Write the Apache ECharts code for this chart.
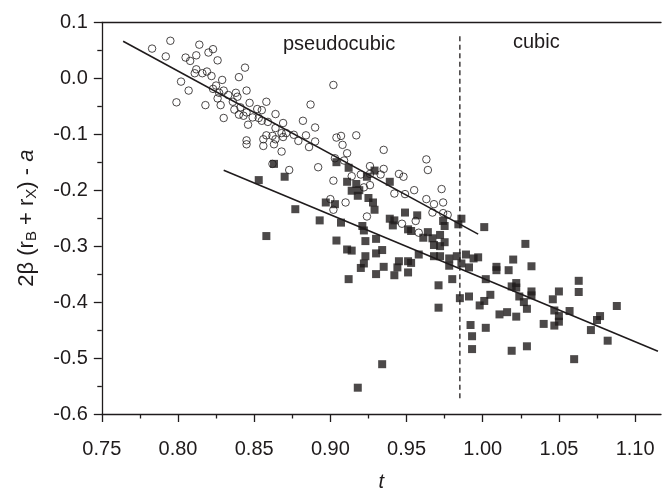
<!DOCTYPE html>
<html><head><meta charset="utf-8">
<script src="https://cdn.jsdelivr.net/npm/echarts@6/dist/echarts.min.js"></script>
<style>html,body{margin:0;padding:0;background:#fff}#c{width:662px;height:497px}</style>
</head><body><div id="c"></div>
<script>
// ---- data ----
const xMajorTicks = [0.75, 0.80, 0.85, 0.90, 0.95, 1.00, 1.05, 1.10];
const xMinorTicks = [0.775, 0.825, 0.875, 0.925, 0.975, 1.025, 1.075];
const regionLabels = ['pseudocubic', 'cubic'];

const circleX = [0.795,0.783,0.792,0.814,0.820,0.823,0.805,0.808,0.812,0.826,0.844,0.812,0.811,0.816,0.819,0.822,0.840,0.829,0.802,0.825,0.823,0.845,0.807,0.830,0.827,0.833,0.838,0.839,0.826,0.799,0.818,0.828,0.836,0.847,0.858,0.841,0.837,0.852,0.855,0.840,0.843,0.845,0.849,0.853,0.830,0.864,0.846,0.855,0.859,0.869,0.864,0.868,0.871,0.876,0.858,0.862,0.856,0.864,0.869,0.845,0.845,0.856,0.863,0.868,0.879,0.862,0.873,
0.902,0.887,0.882,0.890,0.884,0.890,0.886,0.904,0.907,0.917,0.908,0.911,0.935,0.903,0.909,0.892,0.926,0.935,0.920,0.926,0.933,0.945,0.948,0.963,0.964,0.902,0.914,0.955,0.922,0.926,0.942,0.949,0.973,0.900,0.902,0.910,0.963,0.968,0.974,0.967,0.974,0.977,0.924,0.947,0.956,0.958];
const circleY = [0.067,0.053,0.039,0.060,0.046,0.052,0.037,0.031,0.041,0.032,0.019,0.016,0.009,0.009,0.012,0.004,0.002,-0.003,-0.006,-0.013,-0.019,-0.022,-0.022,-0.022,-0.026,-0.030,-0.026,-0.033,-0.036,-0.043,-0.048,-0.048,-0.042,-0.044,-0.042,-0.052,-0.056,-0.055,-0.057,-0.065,-0.067,-0.061,-0.070,-0.071,-0.071,-0.064,-0.083,-0.076,-0.078,-0.080,-0.089,-0.098,-0.098,-0.101,-0.102,-0.103,-0.109,-0.109,-0.105,-0.111,-0.118,-0.121,-0.118,-0.131,-0.112,-0.153,-0.164,
-0.012,-0.047,-0.076,-0.088,-0.102,-0.113,-0.123,-0.106,-0.103,-0.102,-0.119,-0.134,-0.128,-0.143,-0.147,-0.159,-0.157,-0.162,-0.172,-0.171,-0.172,-0.171,-0.176,-0.145,-0.164,-0.183,-0.175,-0.200,-0.195,-0.191,-0.206,-0.207,-0.198,-0.216,-0.235,-0.222,-0.216,-0.225,-0.222,-0.240,-0.241,-0.244,-0.247,-0.260,-0.255,-0.276];

const squareX = [0.863,0.853,0.858,
0.904,0.912,0.870,0.929,0.924,0.911,0.917,0.919,0.914,0.918,0.939,0.925,0.928,0.929,0.897,0.903,0.877,0.893,0.907,0.921,0.922,0.939,0.942,0.941,0.949,0.957,0.904,0.923,0.930,0.911,0.914,0.934,0.930,0.923,0.922,0.920,0.935,0.945,0.944,0.942,0.912,0.930,
0.934,0.918,
0.974,0.975,0.986,0.984,1.001,0.951,0.953,0.964,0.961,0.967,0.972,0.968,0.972,0.975,1.028,0.958,0.968,0.972,0.978,0.983,0.989,0.997,0.994,0.951,0.953,0.978,0.986,0.991,0.951,1.009,1.009,1.017,1.020,1.032,0.971,0.980,1.002,1.019,1.022,1.022,1.032,1.032,1.050,1.063,1.063,0.985,0.991,1.005,1.001,0.998,1.024,1.027,1.029,1.046,1.047,1.057,1.050,1.050,1.047,0.971,1.011,1.016,1.022,1.040,1.077,1.075,1.088,0.992,1.002,1.071,0.993,1.082,0.993,1.019,1.029,1.060];
const squareY = [-0.153,-0.182,-0.282,
-0.150,-0.160,-0.176,-0.165,-0.176,-0.185,-0.189,-0.200,-0.201,-0.210,-0.185,-0.214,-0.222,-0.235,-0.222,-0.225,-0.234,-0.254,-0.258,-0.264,-0.272,-0.251,-0.254,-0.263,-0.240,-0.245,-0.290,-0.291,-0.287,-0.306,-0.308,-0.307,-0.313,-0.318,-0.331,-0.339,-0.337,-0.327,-0.338,-0.352,-0.359,-0.350,
-0.511,-0.553,
-0.255,-0.264,-0.251,-0.261,-0.266,-0.270,-0.273,-0.275,-0.285,-0.286,-0.280,-0.298,-0.300,-0.293,-0.296,-0.315,-0.318,-0.318,-0.322,-0.318,-0.315,-0.320,-0.322,-0.327,-0.330,-0.335,-0.331,-0.338,-0.347,-0.337,-0.343,-0.343,-0.324,-0.336,-0.370,-0.359,-0.359,-0.372,-0.366,-0.374,-0.381,-0.388,-0.381,-0.362,-0.382,-0.393,-0.390,-0.387,-0.398,-0.406,-0.390,-0.400,-0.412,-0.395,-0.415,-0.416,-0.425,-0.435,-0.442,-0.410,-0.422,-0.418,-0.426,-0.439,-0.425,-0.432,-0.407,-0.441,-0.446,-0.450,-0.461,-0.469,-0.484,-0.487,-0.479,-0.502];

const upperFitX = [0.764, 0.997];
const upperFitY = [0.066, -0.2785];
const lowerFitX = [0.830, 1.115];
const lowerFitY = [-0.1646, -0.488];
const boundaryX = [0.985, 0.985];
const boundaryY = [0.075, -0.578];

// ---- chart ----
const FONT = '"Liberation Sans", Arial, Helvetica, sans-serif';
const INK = '#1f1b1c';
const pairs = (xs, ys) => xs.map((x, i) => [x, ys[i]]);

const chart = echarts.init(document.getElementById('c'), null, {renderer: 'canvas'});
const xBase = {type: 'value', min: 0.75, max: 1.117, gridIndex: 0, splitLine: {show: false}};
chart.setOption({
  animation: false,
  backgroundColor: '#fff',
  grid: {left: 101.8, right: 1, top: 22.3, bottom: 75.3, containLabel: false},
  xAxis: [
    Object.assign({}, xBase, {
      position: 'bottom',
      interval: 0.05,
      axisLine: {show: true, onZero: false, lineStyle: {color: INK, width: 1.3}},
      axisTick: {show: true, inside: false, length: 8, customValues: xMajorTicks, lineStyle: {color: INK, width: 1.3}},
      axisLabel: {show: true, customValues: xMajorTicks, margin: 25, fontSize: 20, fontFamily: FONT, color: INK,
        formatter: v => v.toFixed(2)},
      name: 't', nameLocation: 'middle', nameGap: 58,
      nameTextStyle: {fontSize: 20, fontStyle: 'italic', fontFamily: FONT, color: INK}
    }),
    Object.assign({}, xBase, {
      position: 'bottom',
      axisLine: {show: false, onZero: false},
      axisTick: {show: true, inside: false, length: 4.5, customValues: xMinorTicks, lineStyle: {color: INK, width: 1.3}},
      axisLabel: {show: false}
    }),
    Object.assign({}, xBase, {
      position: 'top',
      axisLine: {show: true, onZero: false, lineStyle: {color: INK, width: 1.3}},
      axisTick: {show: false},
      axisLabel: {show: false}
    })
  ],
  yAxis: {
    type: 'value', min: -0.6, max: 0.1, interval: 0.1,
    splitLine: {show: false},
    axisLine: {show: true, onZero: false, lineStyle: {color: INK, width: 1.3}},
    axisTick: {show: true, inside: false, length: 8, lineStyle: {color: INK, width: 1.3}},
    minorTick: {show: true, splitNumber: 2, length: 4.5, lineStyle: {color: INK, width: 1.3}},
    axisLabel: {margin: 14, fontSize: 20, fontFamily: FONT, color: INK,
      formatter: v => (Math.abs(v) < 1e-9 ? 0 : v).toFixed(1)},
    name: '{n|2β (r}{s|B}{n| + r}{s|X}{n|) - }{i|a}',
    nameLocation: 'middle', nameRotate: 90, nameGap: 62,
    nameTextStyle: {
      color: INK, fontFamily: FONT,
      rich: {
        n: {fontSize: 22, lineHeight: 25, fontFamily: FONT, color: INK},
        s: {fontSize: 15, lineHeight: 12, verticalAlign: 'bottom', fontFamily: FONT, color: INK},
        i: {fontSize: 22, lineHeight: 25, fontStyle: 'italic', fontFamily: FONT, color: INK}
      }
    }
  },
  graphic: [
    {type: 'text', left: 283, top: 34, style: {text: regionLabels[0], fontSize: 20, fontFamily: FONT, fill: INK}},
    {type: 'text', left: 513, top: 32, style: {text: regionLabels[1], fontSize: 20, fontFamily: FONT, fill: INK}}
  ],
  series: [
    {type: 'line', data: pairs(boundaryX, boundaryY), showSymbol: false, symbol: 'none',
      lineStyle: {color: INK, width: 1.3, type: [5, 3.5]}, silent: true, z: 1},
    {type: 'scatter', data: pairs(circleX, circleY), symbol: 'circle', symbolSize: 7.5,
      itemStyle: {color: 'rgba(255,255,255,0)', borderColor: INK, borderWidth: 1}, z: 2},
    {type: 'scatter', data: pairs(squareX, squareY), symbol: 'rect', symbolSize: 8,
      itemStyle: {color: INK}, z: 3},
    {type: 'line', data: pairs(upperFitX, upperFitY), showSymbol: false, symbol: 'none',
      lineStyle: {color: INK, width: 1.6}, z: 4},
    {type: 'line', data: pairs(lowerFitX, lowerFitY), showSymbol: false, symbol: 'none',
      lineStyle: {color: INK, width: 1.6}, z: 4}
  ]
});
</script>
</body></html>
